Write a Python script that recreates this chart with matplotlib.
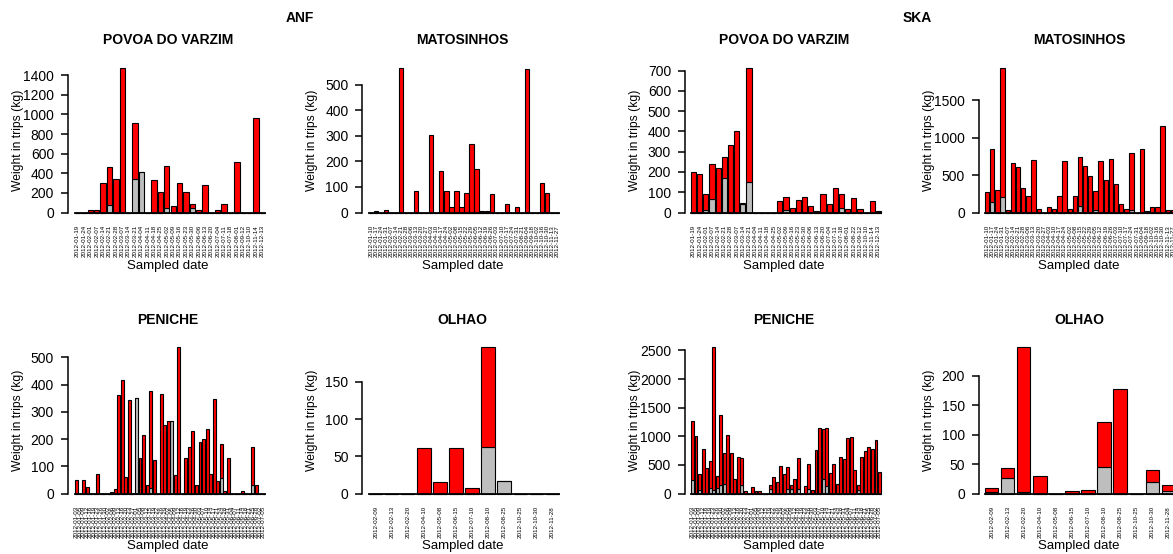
import matplotlib
matplotlib.use("Agg")
import matplotlib.pyplot as plt
import numpy as np

plt.rcParams["font.family"] = ["Liberation Sans", "DejaVu Sans"]

W, H = 1173, 554
RED = "#FF0000"
GREY = "#BEBEBE"


def dates(s):
    return ["2012-" + d for d in s.split()]


# ---- sampled dates (tick labels) ----
povoa_anf_dates = dates("01-19 01-24 02-01 02-07 02-14 02-21 02-28 03-07 03-14 03-21 "
                        "04-04 04-11 04-18 04-25 05-02 05-09 05-16 05-23 05-30 06-06 "
                        "06-13 06-20 07-04 07-11 07-18 08-01 09-12 10-10 11-14 12-13")
povoa_ska_dates = dates("01-19 01-24 02-01 02-07 02-14 02-21 02-28 03-07 03-14 03-21 "
                        "04-04 04-11 04-18 04-25 05-02 05-09 05-16 05-23 05-30 06-06 "
                        "06-13 06-20 07-04 07-11 07-18 08-01 08-22 09-12 10-10 11-14 12-13")
matos_anf_dates = dates("01-10 01-17 01-24 01-31 02-07 02-14 02-21 02-28 03-06 03-13 "
                        "03-20 03-27 04-03 04-10 04-17 04-24 05-02 05-08 05-15 05-22 "
                        "05-29 06-05 06-12 06-19 06-26 07-03 07-10 07-17 07-24 07-31 "
                        "08-21 09-04 09-18 10-02 10-16 10-30 11-13 11-27")
matos_ska_dates = dates("01-10 01-17 01-24 01-31 02-07 02-14 02-21 02-28 03-06 03-13 "
                        "03-20 03-27 04-03 04-10 04-17 04-24 05-02 05-08 05-15 05-22 "
                        "05-29 06-05 06-12 06-19 06-26 07-03 07-10 07-17 07-24 07-31 "
                        "09-04 09-18 10-02 10-16 10-30 11-13 11-27")
peniche_dates = dates("01-03 01-05 01-09 01-12 01-16 01-19 01-23 01-26 01-30 02-02 "
                      "02-06 02-09 02-13 02-16 02-20 02-23 02-27 03-01 03-05 03-08 "
                      "03-12 03-15 03-19 03-22 03-26 03-29 04-02 04-05 04-09 04-12 "
                      "04-16 04-19 04-23 04-26 04-30 05-03 05-07 05-10 05-14 05-17 "
                      "05-21 05-24 05-28 05-31 06-04 06-07 06-11 06-14 06-18 06-21 "
                      "06-25 06-28 07-02 07-05")
olhao_dates = dates("02-09 02-13 02-20 04-10 05-08 06-15 07-10 08-10 08-25 10-25 10-30 11-28")

# ---- weights (kg): total per trip and grey part ----
anf_povoa_tot = [0, 0, 24, 24, 300, 463, 341, 1474, 0, 916, 412, 0, 328, 213, 477,
                 64, 300, 213, 88, 24, 277, 0, 24, 88, 0, 514, 0, 0, 963, 0]
anf_povoa_grey = [0, 0, 0, 0, 0, 74, 0, 0, 0, 338, 412, 0, 0, 0, 51,
                  0, 0, 0, 51, 0, 0, 0, 0, 0, 0, 0, 0, 0, 0, 0]

anf_matos_tot = [0, 5, 0, 9, 0, 0, 565, 0, 0, 86, 0, 0, 302, 0, 163, 86, 23, 86, 23, 77,
                 268, 172, 5, 5, 72, 0, 0, 34, 0, 20, 0, 561, 0, 0, 115, 77, 0, 0]
anf_matos_grey = [0] * 38

ska_povoa_tot = [200, 190, 89, 238, 220, 272, 333, 400, 48, 713, 0, 0, 0, 0, 55, 78,
                 23, 61, 78, 30, 5, 89, 41, 119, 89, 17, 71, 18, 0, 59, 5]
ska_povoa_grey = [0, 0, 12, 66, 0, 168, 0, 0, 44, 152, 0, 0, 0, 0, 0, 12,
                  0, 0, 0, 0, 0, 0, 0, 0, 23, 0, 0, 0, 0, 0, 0]

ska_matos_tot = [276, 846, 307, 1932, 27, 660, 610, 330, 214, 700, 45, 0, 80, 45, 222,
                 690, 45, 214, 739, 623, 490, 294, 690, 441, 721, 378, 111, 45, 801, 0,
                 850, 18, 80, 80, 1162, 27, 27]
ska_matos_grey = [0, 147, 0, 209, 0, 0, 0, 0, 0, 0, 0, 0, 0, 0, 0,
                  0, 0, 0, 89, 0, 0, 27, 0, 0, 0, 0, 0, 0, 27, 0,
                  0, 0, 0, 0, 0, 0, 0]

anf_peniche_tot = [50, 0, 50, 25, 0, 0, 72, 0, 0, 0, 5, 18, 360, 415, 60, 342, 0, 352,
                   130, 215, 32, 378, 122, 0, 365, 250, 268, 268, 68, 538, 0, 130, 170,
                   228, 32, 188, 200, 238, 72, 348, 45, 180, 10, 130, 0, 0, 0, 8, 0, 0,
                   170, 32, 0, 0]
anf_peniche_grey = [0, 0, 0, 0, 0, 0, 0, 0, 0, 0, 0, 0, 0, 0, 0, 0, 0, 352,
                    0, 0, 0, 22, 0, 0, 0, 0, 0, 268, 0, 0, 0, 0, 0,
                    0, 0, 0, 0, 0, 0, 0, 0, 58, 0, 0, 0, 0, 0, 0, 0, 0,
                    30, 0, 0, 0]

ska_peniche_tot = [1267, 1000, 337, 773, 453, 576, 2560, 302, 1366, 703,
                   1023, 703, 256, 640, 616, 35, 0, 110, 40, 40,
                   0, 0, 145, 285, 198, 488, 337, 465, 145, 256,
                   616, 0, 134, 512, 58, 767, 1151, 1134, 1151, 360,
                   512, 163, 640, 599, 965, 983, 407, 140, 640, 750,
                   814, 773, 942, 384]
ska_peniche_grey = [233, 0, 58, 0, 0, 93, 60, 93, 140, 163,
                    0, 0, 0, 0, 151, 0, 0, 0, 0, 0,
                    0, 0, 70, 0, 0, 0, 0, 87, 87, 0,
                    87, 0, 0, 87, 0, 0, 0, 262, 128, 0,
                    0, 0, 0, 0, 0, 0, 0, 58, 0, 0,
                    0, 0, 0, 0]

anf_olhao_tot = [0, 0, 0, 61, 15, 61, 8, 197, 17, 0, 0, 0]
anf_olhao_grey = [0, 0, 0, 0, 0, 0, 0, 62, 17, 0, 0, 0]
ska_olhao_tot = [10, 44, 249, 29, 0, 4, 6, 121, 178, 0, 40, 15]
ska_olhao_grey = [3, 27, 2, 0, 0, 0, 0, 45, 0, 0, 19, 4]

# ---- layout (pixels) ----
spine_x = [68, 362.5, 685, 979]
bars_left = [75, 369, 691, 985]
bars_w = 190
title_x = [168, 462.5, 784, 1079]
row_base = [212.5, 493.5]
row_top = [68, 347]
row_title_y = [39.5, 320]
row_ylab_y = [140, 420]
row_xlab_y = [266, 546]

panels = [
    ("POVOA DO VARZIM", anf_povoa_tot, anf_povoa_grey, povoa_anf_dates, 200, 0, 0),
    ("MATOSINHOS", anf_matos_tot, anf_matos_grey, matos_anf_dates, 100, 1, 0),
    ("POVOA DO VARZIM", ska_povoa_tot, ska_povoa_grey, povoa_ska_dates, 100, 2, 0),
    ("MATOSINHOS", ska_matos_tot, ska_matos_grey, matos_ska_dates, 500, 3, 0),
    ("PENICHE", anf_peniche_tot, anf_peniche_grey, peniche_dates, 100, 0, 1),
    ("OLHAO", anf_olhao_tot, anf_olhao_grey, olhao_dates, 50, 1, 1),
    ("PENICHE", ska_peniche_tot, ska_peniche_grey, peniche_dates, 500, 2, 1),
    ("OLHAO", ska_olhao_tot, ska_olhao_grey, olhao_dates, 50, 3, 1),
]


def fx(px):
    return px / W


def fy(py):
    return 1 - py / H


fig = plt.figure(figsize=(W / 100, H / 100), dpi=100)

for title, tot, grey, labels, step, col, row in panels:
    tot = np.array(tot, dtype=float)
    grey = np.array(grey, dtype=float)
    red = tot - grey
    n = len(tot)
    x = np.arange(n)
    w = 1 / 1.2
    base, top = row_base[row], row_top[row]
    ax = fig.add_axes([fx(bars_left[col]), fy(base), bars_w / W, (base - top) / H])
    ax.patch.set_alpha(0)

    ax.bar(x, grey, w, color=GREY, edgecolor="black", linewidth=0.8, clip_on=False)
    ax.bar(x, red, w, bottom=grey, color=RED, edgecolor="black", linewidth=0.8, clip_on=False)

    ax.set_xlim(-w / 2, n - 1 + w / 2)
    ax.set_ylim(0, tot.max())
    ticks = np.arange(0, tot.max() + 1e-9, step)
    ax.set_yticks(ticks, [str(int(t)) for t in ticks], fontweight="bold", fontsize=9)
    ax.set_xticks(x, labels, rotation=90, fontsize=4.5, ha="center", va="top")
    ax.tick_params(axis="x", length=0, pad=9)
    ax.tick_params(axis="y", length=5, width=1.1, pad=5)

    for s in ("top", "right"):
        ax.spines[s].set_visible(False)
    off = (bars_left[col] - spine_x[col]) * 72 / 100
    ax.spines["left"].set_position(("outward", off))
    ax.spines["left"].set_bounds(0, ticks[-1])
    ax.spines["left"].set_linewidth(1.1)
    ax.spines["bottom"].set_linewidth(1.3)

    fig.text(fx(title_x[col]), fy(row_title_y[row]), title, ha="center", va="center",
             fontsize=10, fontweight="bold")
    fig.text(fx(spine_x[col] - 50), fy(row_ylab_y[row]), "Weight in trips (kg)",
             rotation=90, ha="center", va="center", fontsize=8.7)
    fig.text(fx(title_x[col]), fy(row_xlab_y[row]), "Sampled date", ha="center",
             va="center", fontsize=9.5)

fig.text(fx(300), fy(18), "ANF", ha="center", va="center", fontsize=10, fontweight="bold")
fig.text(fx(917.5), fy(18), "SKA", ha="center", va="center", fontsize=10, fontweight="bold")

fig.savefig("out.png", dpi=100)
